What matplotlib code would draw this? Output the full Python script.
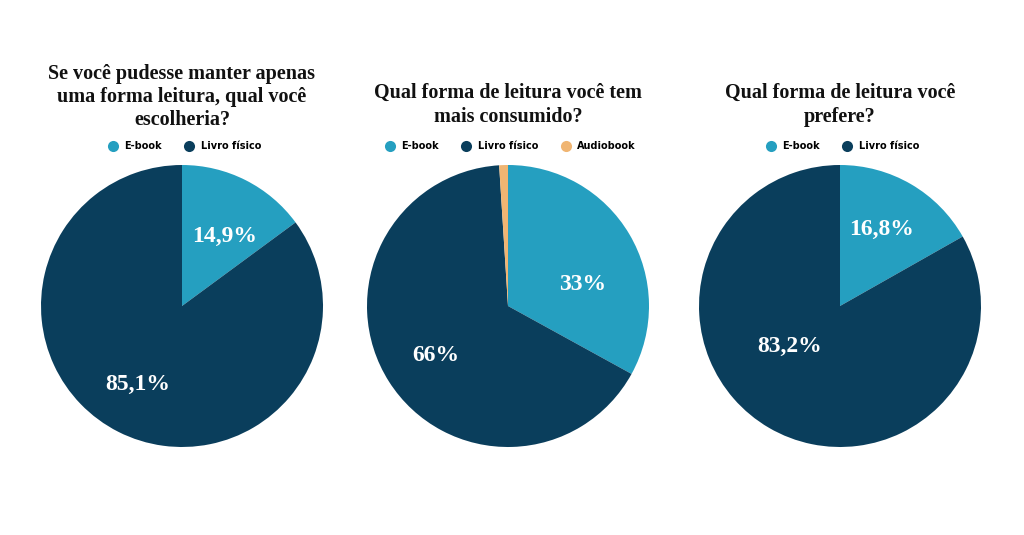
import numpy as np
import matplotlib
matplotlib.use('Agg')
import matplotlib.pyplot as plt
from matplotlib.lines import Line2D

# data
titles = ['Se você pudesse manter apenas\numa forma leitura, qual você\nescolheria?',
          'Qual forma de leitura você tem\nmais consumido?',
          'Qual forma de leitura você\nprefere?']
cats1 = ['E-book', 'Livro físico']
vals1 = [14.9, 85.1]
labs1 = ['14,9%', '85,1%']
cats2 = ['E-book', 'Livro físico', 'Audiobook']
vals2 = [33, 66, 1]
labs2 = ['33%', '66%', '']
cats3 = ['E-book', 'Livro físico']
vals3 = [16.8, 83.2]
labs3 = ['16,8%', '83,2%']

colors = {'E-book': '#259fc0', 'Livro físico': '#0a3e5c', 'Audiobook': '#f0b572'}

W, H = 1024, 535
fig = plt.figure(figsize=(W/100, H/100), dpi=100)
fig.patch.set_facecolor('white')

centers_x = [182, 508, 840]   # px
center_y = 306                 # px from top
R = 141
title_y = [97, 105, 105]       # px from top, center of title block
# label placement: (radius, angle offset from wedge middle in degrees)
lab_place = [[(0.58, -4.8), (0.64, -2.3)],
             [(0.55, -14.8), (0.62, 1.8), (0.6, 0)],
             [(0.62, 1.6), (0.46, -21.0)]]

charts = [(cats1, vals1, labs1), (cats2, vals2, labs2), (cats3, vals3, labs3)]

for i, (cats, vals, labs) in enumerate(charts):
    cx = centers_x[i]
    ax = fig.add_axes([(cx-R)/W, (H-center_y-R)/H, 2*R/W, 2*R/H])
    cols = [colors[c] for c in cats]
    wedges, texts = ax.pie(vals, colors=cols, startangle=90, counterclock=False,
                           radius=1, wedgeprops=dict(linewidth=0))
    for w, lab, (r, off) in zip(wedges, labs, lab_place[i]):
        if not lab:
            continue
        mid = (w.theta1 + w.theta2)/2 + off
        ax.text(r*np.cos(np.radians(mid)), r*np.sin(np.radians(mid)), lab,
                ha='center', va='center', color='white', fontsize=17,
                fontweight='bold', family='Liberation Serif')
    ax.set_xlim(-1, 1)
    ax.set_ylim(-1, 1)
    ax.axis('off')

    handles = [Line2D([0], [0], marker='o', linestyle='', markersize=8,
                      markerfacecolor=colors[c], markeredgewidth=0) for c in cats]
    ax.legend(handles, cats, loc='center', bbox_to_anchor=(0.5, (H-146-(H-center_y-R))/(2*R)),
              ncol=len(cats), frameon=False, handletextpad=0.2, columnspacing=1.8,
              prop=dict(family='DejaVu Sans', weight='bold', size=7))

    fig.text(cx/W, 1-title_y[i]/H, titles[i], ha='center', va='center',
             fontsize=14.5, fontweight='bold', family='Liberation Serif',
             linespacing=1.22, color='#111111')

fig.savefig('out.png', dpi=100, facecolor='white')
